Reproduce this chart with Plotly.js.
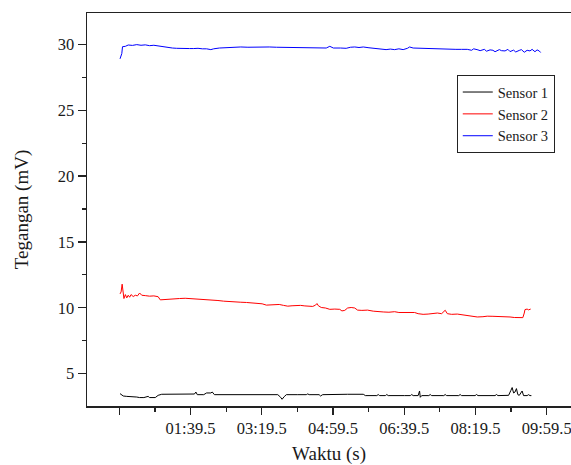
<!DOCTYPE html>
<html>
<head>
<meta charset="utf-8">
<script src="https://cdn.plot.ly/plotly-3.0.1.min.js"></script>
<style>html,body{margin:0;padding:0;background:#fff;}#chart{width:571px;height:465px;}</style>
</head>
<body>
<div id="chart"></div>
<script>
// Time in seconds
const t1 = [0.5,3,5,10,19,24,28,34,40,42,50,54,59,70,80,90,100,105,107,109,118,122,128,130,133,150,170,190,210,222,226,228,231,234,250,262,264,266,280,282,285,300,320,342,345,361,363,365,373,375,377,400,408,410,412,419,421,422,424,434,436,438,455,457,459,476,478,480,499,501,503,527,529,531,546,549,551,553,555,557,559,561,563,565,567,572,574,576,578];
const s1 = [3.48,3.38,3.3,3.27,3.27,3.22,3.18,3.18,3.27,3.18,3.18,3.35,3.43,3.43,3.43,3.43,3.43,3.45,3.6,3.4,3.4,3.53,3.53,3.6,3.4,3.4,3.4,3.4,3.4,3.4,3.2,3.05,3.25,3.4,3.4,3.4,3.46,3.4,3.4,3.3,3.4,3.43,3.43,3.43,3.33,3.33,3.41,3.33,3.33,3.41,3.33,3.33,3.33,3.41,3.33,3.33,3.68,3.2,3.33,3.33,3.41,3.33,3.33,3.41,3.33,3.33,3.41,3.33,3.33,3.41,3.33,3.33,3.41,3.33,3.35,3.7,3.94,3.53,3.6,3.86,3.4,3.35,3.5,3.68,3.33,3.33,3.4,3.33,3.33];

const t2 = [0.5,2,3.5,5,6,8,10,12,14,16,19,22,25,28,31,36,42,48,54,57,62,68,76,84,92,100,108,116,124,130,138,146,154,162,170,178,186,194,200,206,212,218,224,230,236,242,248,254,260,266,271,275,277,279,283,289,295,302,309,312,316,320,325,330,334,340,348,356,362,370,378,386,392,400,408,414,419,426,433,440,446,452,457,460,466,474,482,488,496,502,510,516,524,532,540,548,554,560,566,568,569,572,574,577];
const s2 = [11.05,11.2,11.79,11.3,10.7,11.0,10.75,10.95,10.8,11.0,10.85,10.95,10.9,11.12,10.95,10.92,10.88,10.9,10.84,10.6,10.62,10.68,10.72,10.7,10.72,10.7,10.68,10.66,10.64,10.6,10.55,10.5,10.46,10.44,10.42,10.4,10.38,10.33,10.3,10.2,10.22,10.27,10.25,10.18,10.12,10.15,10.19,10.18,10.14,10.12,10.1,10.2,10.32,10.15,10.02,9.98,9.88,9.9,9.88,9.76,9.8,9.98,10.02,9.98,9.82,9.8,9.82,9.74,9.7,9.68,9.66,9.7,9.64,9.66,9.63,9.64,9.55,9.5,9.52,9.58,9.6,9.55,9.81,9.55,9.5,9.52,9.46,9.43,9.35,9.3,9.32,9.36,9.35,9.33,9.36,9.3,9.26,9.28,9.25,9.6,9.86,9.9,9.84,9.9];

const t3 = [0.5,2,3,4,8,12,18,24,30,36,42,48,56,62,68,74,80,86,92,98,104,110,116,122,128,132,140,150,160,170,180,190,200,210,220,230,240,250,260,270,280,290,295,300,310,318,324,330,336,342,350,358,366,374,380,386,392,398,404,407,412,420,430,440,448,456,464,472,480,488,494,497,503,506,512,515,520,524,527,533,536,541,545,548,553,556,561,564,568,572,576,579,583,586,589,591];
const s3 = [28.9,29.1,29.3,29.82,29.85,29.95,29.92,29.98,29.93,29.96,29.9,29.93,29.85,29.8,29.75,29.72,29.7,29.68,29.7,29.68,29.68,29.7,29.66,29.66,29.6,29.66,29.72,29.76,29.78,29.8,29.78,29.8,29.82,29.8,29.78,29.77,29.8,29.78,29.75,29.72,29.74,29.72,29.85,29.72,29.72,29.7,29.78,29.8,29.76,29.8,29.74,29.68,29.62,29.6,29.64,29.6,29.66,29.6,29.7,29.8,29.72,29.7,29.7,29.68,29.64,29.62,29.64,29.62,29.62,29.62,29.55,29.66,29.58,29.52,29.62,29.48,29.58,29.55,29.44,29.6,29.52,29.5,29.62,29.45,29.56,29.42,29.54,29.6,29.4,29.55,29.5,29.62,29.44,29.58,29.5,29.38];

const names = ['Sensor 1','Sensor 2','Sensor 3'];
const colors = ['#000000','#ff0000','#0000ff'];

const xTickVals = [-0.5,99.5,199.5,299.5,399.5,499.5,599.5];
const xTickText = ['','01:39.5','03:19.5','04:59.5','06:39.5','08:19.5','09:59.5'];
const xMinorVals = [49.5,149.5,249.5,349.5,449.5,549.5];

const serif = 'Liberation Serif, Times New Roman, serif';
const txt = '#1a1a1a';

const data = [[t1,s1],[t2,s2],[t3,s3]].map((d,i)=>({
  x: d[0], y: d[1], type:'scatter', mode:'lines', name: names[i],
  line:{color:colors[i], width:1}
}));

const layout = {
  width:571, height:465,
  margin:{l:87, r:0, t:13, b:59},
  paper_bgcolor:'#fff', plot_bgcolor:'#fff',
  font:{family:serif, size:16, color:txt},
  showlegend:true,
  legend:{x:0.764, y:0.842, xanchor:'left', yanchor:'top',
    bordercolor:'#222', borderwidth:1, bgcolor:'#fff',
    font:{family:serif, size:14.5, color:txt}, itemwidth:30,
    tracegroupgap:0},
  xaxis:{
    range:[-45.85,633.6], showgrid:false, zeroline:false,
    showline:true, linecolor:'#222', linewidth:1.5, mirror:true,
    ticks:'outside', ticklen:7, tickwidth:1.2, tickcolor:'#222',
    tickmode:'array', tickvals:xTickVals, ticktext:xTickText,
    ticklabeloverflow:'allow',
    minor:{tickvals:xMinorVals, ticks:'outside', ticklen:4, tickwidth:1.2, tickcolor:'#222', showgrid:false},
    tickfont:{family:serif, size:16.5, color:txt},
    title:{text:'Waktu (s)', font:{family:serif, size:19, color:txt}, standoff:12}
  },
  yaxis:{
    range:[2.54,32.38], showgrid:false, zeroline:false,
    showline:true, linecolor:'#222', linewidth:1.5, mirror:false,
    ticks:'outside', ticklen:8, tickwidth:1.2, tickcolor:'#222',
    tick0:0, dtick:5,
    minor:{dtick:2.5, tick0:0, ticks:'outside', ticklen:4, tickwidth:1.2, tickcolor:'#222', showgrid:false},
    tickfont:{family:serif, size:16.5, color:txt},
    title:{text:'Tegangan (mV)', font:{family:serif, size:19, color:txt}, standoff:24}
  }
};

Plotly.newPlot('chart', data, layout, {displayModeBar:false, staticPlot:true});
</script>
</body>
</html>
